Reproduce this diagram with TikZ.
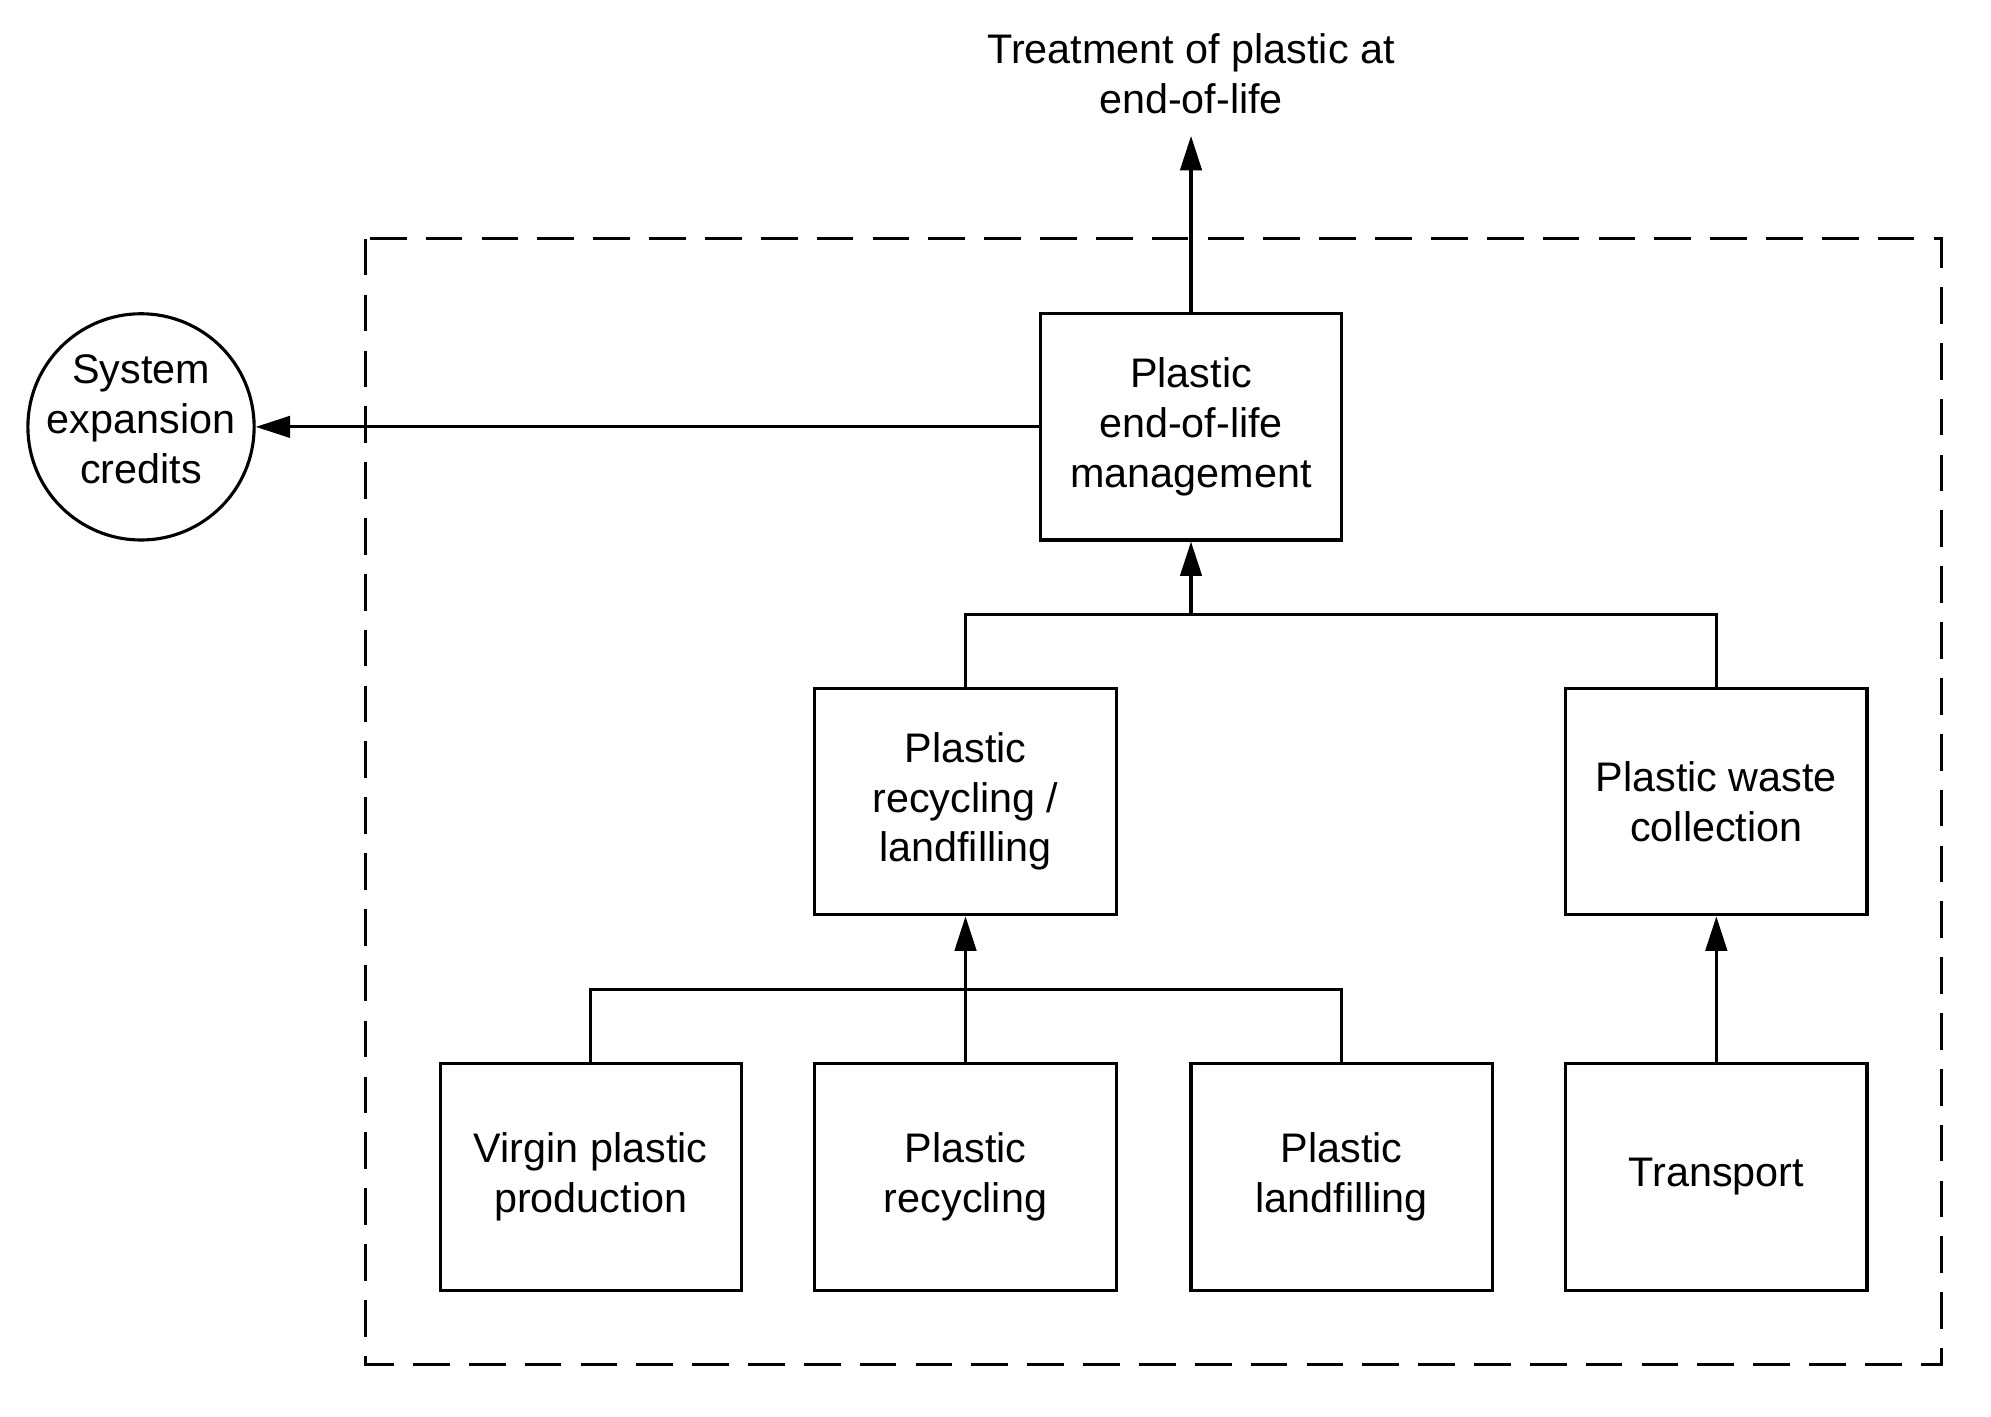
\documentclass[tikz,border=0pt]{standalone}
\usepackage{fontspec}
\setmainfont{Liberation Sans}
\usetikzlibrary{arrows.meta}

\begin{document}
\begin{tikzpicture}[x=0.01cm, y=-0.01cm, line width=0.7pt,
    box/.style={draw, rectangle, inner sep=0pt, minimum width=2.37cm, minimum height=1.78cm, align=center},
    arr/.style={-{Triangle[length=7.7pt, width=4.8pt]}},
    every node/.style={font=\fontsize{9.25}{11.1}\selectfont}]
    \useasboundingbox (0,0) rectangle (1567.2,1114.6);
    \draw[dash pattern=on 8.2pt off 4.3pt] (288,188) rectangle (1528,1074);
    \node[align=center] (treat) at (937.5,58) {Treatment of plastic at\\end-of-life};
    \coordinate (top) at (937.5,107);
    \node[draw, circle, inner sep=0pt, minimum size=1.78cm] (credits) at (111,336) {};
    \node[align=center] (creditstext) at (111,330) {System\\expansion\\credits};
    \node[box] (eol) at (937.5,336) {Plastic\\end-of-life\\management};
    \node[box] (rec) at (760,631) {Plastic\\recycling /\\landfilling};
    \node[box] (waste) at (1351,631) {Plastic waste\\collection};
    \node[box] (virgin) at (465,926.5) {Virgin plastic\\production};
    \node[box] (recy) at (760,926.5) {Plastic\\recycling};
    \node[box] (landf) at (1056,926.5) {Plastic\\landfilling};
    \node[box] (trans) at (1351,926.5) {Transport};
    \coordinate (j1) at (937.5,484);
    \coordinate (j2) at (760,779);
    \draw[arr] (eol.north) -- (top);
    \draw[arr] (eol.west) -- (credits.east);
    \draw (rec.north) |- (j1) -| (waste.north);
    \draw[arr] (j1) -- (eol.south);
    \draw (virgin.north) |- (j2) -| (landf.north);
    \draw[arr] (recy.north) -- (rec.south);
    \draw[arr] (trans.north) -- (waste.south);
\end{tikzpicture}
\end{document}
